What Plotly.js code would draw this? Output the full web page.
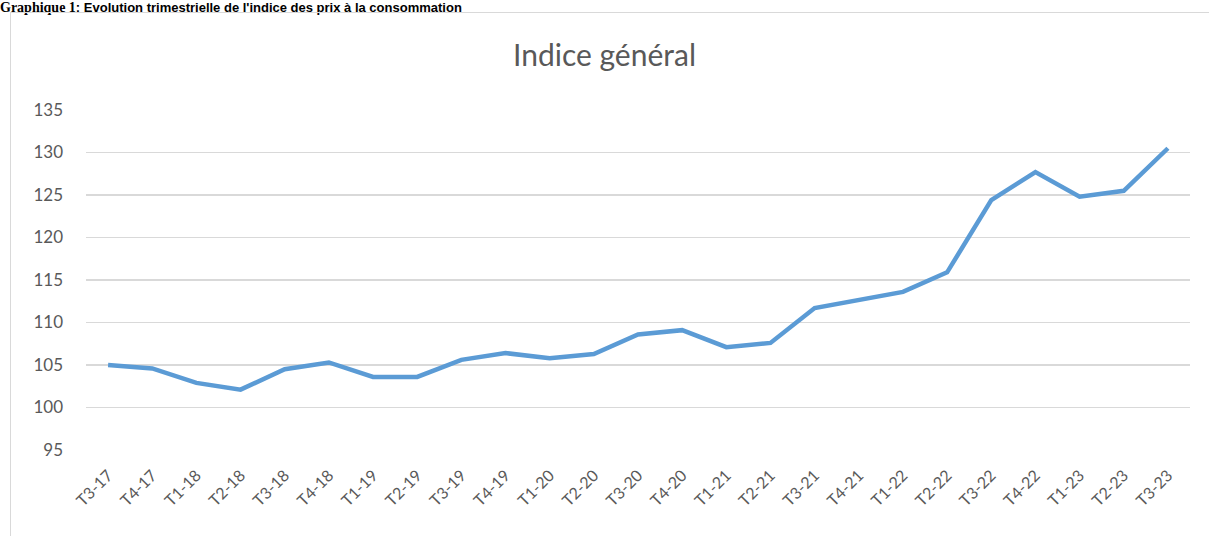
<!DOCTYPE html>
<html>
<head>
<meta charset="utf-8">
<script src="https://cdn.plot.ly/plotly-3.0.1.min.js"></script>
<style>
  html, body { margin: 0; padding: 0; background: #fff; width: 1209px; height: 536px; overflow: hidden; }
  #hdr { position: absolute; left: 0; top: 0px; font-weight: bold; white-space: nowrap; color: #000; line-height: 13px; }
  #hdr .s { font-family: "Liberation Serif", "Times New Roman", serif; font-size: 14px; }
  #hdr .a { font-family: "Liberation Sans", Arial, sans-serif; font-size: 13px; }
  #frame { position: absolute; left: 10px; top: 12px; width: 1220px; height: 540px; border: 1px solid #d9d9d9; box-sizing: border-box; }
  #chart { position: absolute; left: 0; top: 0; width: 1209px; height: 536px; }
</style>
</head>
<body>
<div id="hdr"><span class="s">Graphique 1</span><span class="a">: Evolution trimestrielle de l'indice des prix à la consommation</span></div>
<div id="frame"></div>
<div id="chart"></div>
<script>
const quarters = ["T3-17","T4-17","T1-18","T2-18","T3-18","T4-18","T1-19","T2-19","T3-19","T4-19",
  "T1-20","T2-20","T3-20","T4-20","T1-21","T2-21","T3-21","T4-21","T1-22","T2-22",
  "T3-22","T4-22","T1-23","T2-23","T3-23"];
const indiceGeneral = [105.0,104.6,102.9,102.1,104.5,105.3,103.6,103.6,105.6,106.4,
  105.8,106.3,108.6,109.1,107.1,107.6,111.7,112.7,113.6,115.9,
  124.4,127.7,124.8,125.5,130.5];
const yTicks = [95,100,105,110,115,120,125,130,135];

Plotly.newPlot('chart', [{
  x: quarters, y: indiceGeneral, type: 'scatter', mode: 'lines',
  line: { color: '#5B9BD5', width: 4.5 }
}], {
  width: 1209, height: 536,
  paper_bgcolor: 'rgba(0,0,0,0)', plot_bgcolor: 'rgba(0,0,0,0)',
  margin: { l: 86, r: 19, t: 110, b: 86 },
  font: { family: 'Lato, "Open Sans", sans-serif', color: '#595959' },
  title: { text: 'Indice général', font: { size: 30, color: '#595959' }, x: 0.5, xanchor: 'center', y: 1 - 55/536, yanchor: 'middle' },
  xaxis: { type: 'category', range: [-0.5, quarters.length - 0.5], tickangle: -45, tickfont: { size: 16, color: '#595959' }, showgrid: false, zeroline: false, showline: false, ticks: '', ticklabelstandoff: 12 },
  yaxis: { range: [95, 135], tickvals: yTicks, tickfont: { size: 17, color: '#595959' }, gridcolor: '#d9d9d9', gridwidth: 1.5, zeroline: false, showline: false, ticks: '', ticklabelstandoff: 22 },
  showlegend: false
}, { displayModeBar: false, staticPlot: true });
</script>
</body>
</html>
